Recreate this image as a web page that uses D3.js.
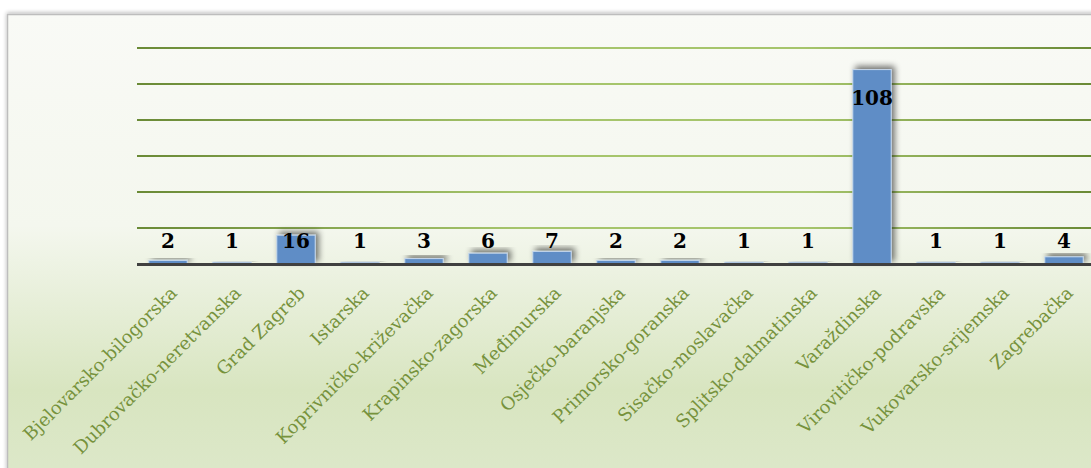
<!DOCTYPE html>
<html><head><meta charset="utf-8">
<script src="https://cdn.jsdelivr.net/npm/d3@7"></script>
<style>html,body{margin:0;padding:0;background:#fff;overflow:hidden}</style>
</head><body>
<svg id="c" width="1091" height="468"></svg>
<script>
const categories = ["Bjelovarsko-bilogorska","Dubrovačko-neretvanska","Grad Zagreb","Istarska","Koprivničko-križevačka","Krapinsko-zagorska","Međimurska","Osječko-baranjska","Primorsko-goranska","Sisačko-moslavačka","Splitsko-dalmatinska","Varaždinska","Virovitičko-podravska","Vukovarsko-srijemska","Zagrebačka"];
const values = [2,1,16,1,3,6,7,2,2,1,1,108,1,1,4];
const gridTicks = [20,40,60,80,100,120];

const svg = d3.select("#c");
const defs = svg.append("defs");
const bg = defs.append("linearGradient").attr("id","bg").attr("x1",0).attr("y1",0).attr("x2",0).attr("y2",1);
bg.append("stop").attr("offset","0%").attr("stop-color","#f9faf6");
bg.append("stop").attr("offset","45%").attr("stop-color","#f4f7ee");
bg.append("stop").attr("offset","80%").attr("stop-color","#d8e5c0");
bg.append("stop").attr("offset","100%").attr("stop-color","#dde8ca");
const gl = defs.append("linearGradient").attr("id","gl").attr("gradientUnits","userSpaceOnUse").attr("x1",137).attr("x2",1091).attr("y1",0).attr("y2",0);
gl.append("stop").attr("offset","0%").attr("stop-color","#6a8a36");
gl.append("stop").attr("offset","40%").attr("stop-color","#a6c56c");
gl.append("stop").attr("offset","70%").attr("stop-color","#a6c56c");
gl.append("stop").attr("offset","100%").attr("stop-color","#6a8a36");
const sh = defs.append("filter").attr("id","sh").attr("x","-50%").attr("y","-50%").attr("width","200%").attr("height","200%");
sh.append("feGaussianBlur").attr("in","SourceAlpha").attr("stdDeviation",3).attr("result","b");
sh.append("feOffset").attr("in","b").attr("dx",3).attr("dy",-3).attr("result","o");
sh.append("feComponentTransfer").attr("in","o").attr("result","o2").append("feFuncA").attr("type","linear").attr("slope",0.55);
const m = sh.append("feMerge"); m.append("feMergeNode").attr("in","o2"); m.append("feMergeNode").attr("in","SourceGraphic");
const fsh = defs.append("filter").attr("id","fsh").attr("x","-10%").attr("y","-10%").attr("width","120%").attr("height","120%");
fsh.append("feGaussianBlur").attr("in","SourceAlpha").attr("stdDeviation",2).attr("result","b");
fsh.append("feOffset").attr("in","b").attr("dx",0).attr("dy",-1).attr("result","o");
fsh.append("feComponentTransfer").attr("in","o").attr("result","o2").append("feFuncA").attr("type","linear").attr("slope",0.3);
const m2 = fsh.append("feMerge"); m2.append("feMergeNode").attr("in","o2"); m2.append("feMergeNode").attr("in","SourceGraphic");

// chart frame
svg.append("rect").attr("x",7.5).attr("y",14.5).attr("width",1100).attr("height",470)
  .attr("fill","url(#bg)").attr("stroke","#bdbdbd").attr("stroke-width",1.5).attr("filter","url(#fsh)");

const x = d3.scaleBand().domain(categories).range([136,1096]).paddingInner(0.4).paddingOuter(0.2);
const y = d3.scaleLinear().domain([0,120]).range([264,48]);

// gridlines
svg.append("g").selectAll("line").data(gridTicks).join("line")
  .attr("x1",137).attr("x2",1091).attr("y1",d=>y(d)).attr("y2",d=>y(d))
  .attr("stroke","url(#gl)").attr("stroke-width",2.2);

// bars
svg.append("g").selectAll("rect").data(values).join("rect")
  .attr("x",(d,i)=>x(categories[i])).attr("width",x.bandwidth())
  .attr("y",d=>y(d)).attr("height",d=>y(0)-y(d))
  .attr("fill","#5e8dc6").attr("stroke","#c6d7ec").attr("stroke-width",1)
  .attr("filter","url(#sh)");

// baseline
svg.append("line").attr("x1",137).attr("x2",1091).attr("y1",y(0)+0.5).attr("y2",y(0)+0.5)
  .attr("stroke","#404040").attr("stroke-width",3);

// value labels
svg.append("g").selectAll("text").data(values).join("text")
  .attr("x",(d,i)=>x(categories[i])+x.bandwidth()/2)
  .attr("y",d=>Math.min(y(d)+28,241))
  .attr("dy","0.36em").attr("text-anchor","middle")
  .attr("font-family","DejaVu Serif").attr("font-weight","bold").attr("font-size",20)
  .attr("fill","#000").text(d=>d);

// category labels
svg.append("g").selectAll("text").data(categories).join("text")
  .attr("transform",d=>`translate(${x(d)+x.bandwidth()/2+1},${285}) rotate(-45)`)
  .attr("text-anchor","end").attr("dy","0.72em")
  .attr("font-family","DejaVu Serif").attr("font-size",18)
  .attr("fill","#76923c").text(d=>d);
</script>
</body></html>
